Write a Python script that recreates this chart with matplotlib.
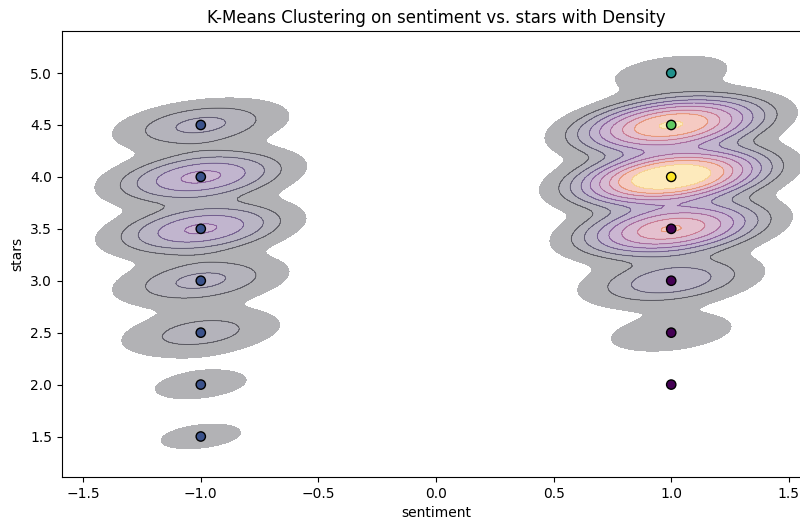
import numpy as np
import matplotlib
matplotlib.use("Agg")
import matplotlib.pyplot as plt
import seaborn as sns

# ---- data ----
left_stars = [1.5, 2.0, 2.5, 3.0, 3.5, 4.0, 4.5]
left_counts = [17, 19, 50, 72, 155, 160, 72]
left_cluster = [1, 1, 1, 1, 1, 1, 1]

right_stars = [2.0, 2.5, 3.0, 3.5, 4.0, 4.5, 5.0]
right_counts = [7, 27, 90, 360, 670, 480, 24]
right_cluster = [0, 0, 0, 0, 4, 3, 2]

sentiment = np.array([-1.0] * len(left_stars) + [1.0] * len(right_stars))
stars = np.array(left_stars + right_stars, dtype=float)
counts = np.array(left_counts + right_counts, dtype=float)
cluster = np.array(left_cluster + right_cluster)

# kernel bandwidth so that the kernel's sentiment std is ~0.197
cov = np.cov(np.vstack([sentiment, stars]), aweights=counts / counts.sum())
bw = 0.197 / np.sqrt(cov[0, 0])

fig = plt.figure(figsize=(8, 5.2), dpi=100)
ax = fig.add_axes([62 / 800, 43 / 520, 748 / 800, 446 / 520])

ax.scatter(sentiment, stars, c=cluster, cmap="viridis", vmin=0, vmax=4,
           s=45, edgecolors="k", linewidths=1.0, zorder=5)

sns.kdeplot(x=sentiment, y=stars, weights=counts, fill=True, cmap="inferno",
            alpha=0.3, bw_method=bw, levels=10, thresh=0.05, ax=ax)
sns.kdeplot(x=sentiment, y=stars, weights=counts, fill=False, cmap="inferno",
            alpha=0.3, bw_method=bw, levels=list(np.linspace(0.05, 1, 10)[1:9]),
            linewidths=0.7, ax=ax)

ax.set_xlim(-1.59, 1.59)
ax.set_ylim(1.11, 5.405)

ax.set_title("K-Means Clustering on sentiment vs. stars with Density", fontsize=12)
ax.set_xlabel("sentiment")
ax.set_ylabel("stars")

fig.savefig("out.png", dpi=100)
